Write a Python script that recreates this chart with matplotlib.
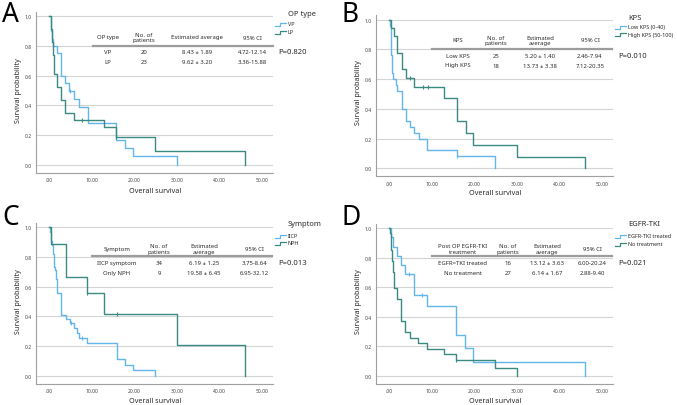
import numpy as np
import matplotlib
matplotlib.use("Agg")
import matplotlib.pyplot as plt
from matplotlib.lines import Line2D

plt.rcParams['font.family'] = ['Noto Sans', 'DejaVu Sans']

W, H = 677, 406
BLUE = '#62b6ec'
TEAL = '#3b8a82'
TXT = '#2b2b2b'

# ---- data (time, survival) ----
a_vp_t = [0, 0.3, 0.5, 0.7, 0.9, 1.9, 2.8, 3.8, 4.6, 5.7, 6.9, 9.0, 15.7, 17.9, 19.8, 30.0]
a_vp_s = [1, 0.95, 0.90, 0.85, 0.80, 0.75, 0.60, 0.55, 0.50, 0.444, 0.389, 0.278, 0.167, 0.111, 0.056, 0.0]
a_lp_t = [0, 0.3, 0.5, 0.6, 0.7, 0.8, 0.9, 1.0, 1.1, 1.2, 1.9, 2.8, 3.8, 5.7, 12.9, 15.7, 24.9, 46.0]
a_lp_s = [1, 0.957, 0.913, 0.87, 0.826, 0.783, 0.739, 0.696, 0.652, 0.609, 0.522, 0.435, 0.348, 0.304, 0.254, 0.19, 0.095, 0.0]
a_vp_cens = [(4.8, 0.50)]
a_lp_cens = [(7.8, 0.304), (15.7, 0.19)]

b_low_t = [0, 0.2, 0.3, 0.4, 0.5, 0.6, 0.7, 0.8, 1.5, 1.9, 2.9, 3.9, 4.9, 5.9, 7.1, 8.8, 15.9, 24.9]
b_low_s = [1, 0.96, 0.92, 0.84, 0.76, 0.72, 0.64, 0.60, 0.56, 0.52, 0.40, 0.32, 0.28, 0.24, 0.20, 0.12, 0.08, 0.0]
b_high_t = [0, 0.4, 1.2, 1.8, 2.9, 3.9, 5.9, 12.9, 15.9, 18.1, 19.8, 30.0, 46.0]
b_high_s = [1, 0.944, 0.889, 0.778, 0.667, 0.611, 0.55, 0.47, 0.315, 0.236, 0.157, 0.079, 0.0]
b_low_cens = [(15.9, 0.08)]
b_high_cens = [(4.9, 0.611), (7.9, 0.55), (9.0, 0.55)]

c_iicp_t = [0, 0.2, 0.3, 0.5, 0.7, 0.8, 0.9, 1.0, 1.1, 1.2, 1.3, 1.6, 1.9, 2.8, 3.9, 4.9, 5.9, 6.5, 6.9, 8.9, 15.9, 17.9, 19.8, 24.9]
c_iicp_s = [1, 0.97, 0.94, 0.91, 0.88, 0.85, 0.82, 0.79, 0.76, 0.735, 0.71, 0.65, 0.56, 0.41, 0.382, 0.353, 0.321, 0.289, 0.257, 0.22, 0.11, 0.074, 0.037, 0.0]
c_nph_t = [0, 0.4, 3.9, 8.9, 12.9, 30.0, 46.0]
c_nph_s = [1, 0.889, 0.667, 0.556, 0.417, 0.208, 0.0]
c_iicp_cens = [(5.0, 0.353), (7.8, 0.257)]
c_nph_cens = [(8.9, 0.556), (15.9, 0.417)]

d_tki_t = [0, 0.3, 0.8, 1.9, 2.8, 3.8, 5.8, 8.9, 15.7, 17.8, 19.8, 46.0]
d_tki_s = [1, 0.9375, 0.875, 0.8125, 0.75, 0.6875, 0.55, 0.471, 0.28, 0.19, 0.094, 0.0]
d_no_t = [0, 0.2, 0.3, 0.4, 0.5, 0.6, 0.7, 0.8, 0.9, 1.0, 1.1, 1.2, 1.9, 2.8, 3.8, 4.8, 6.8, 8.9, 12.9, 15.7, 24.9, 30.0]
d_no_s = [1, 0.963, 0.926, 0.889, 0.852, 0.815, 0.778, 0.741, 0.704, 0.667, 0.63, 0.593, 0.519, 0.37, 0.296, 0.259, 0.222, 0.185, 0.148, 0.111, 0.056, 0.0]
d_tki_cens = [(4.7, 0.6875), (7.7, 0.55)]
d_no_cens = [(15.7, 0.111)]

# ---- table contents ----
a_head = ['OP type', 'No. of\npatients', 'Estimated average', '95% CI']
a_rows = [['VP', '20', '8.43 ± 1.89', '4.72-12.14'], ['LP', '23', '9.62 ± 3.20', '3.36-15.88']]
b_head = ['KPS', 'No. of\npatients', 'Estimated\naverage', '95% CI']
b_rows = [['Low KPS', '25', '5.20 ± 1.40', '2.46-7.94'], ['High KPS', '18', '13.73 ± 3.38', '7.12-20.35']]
c_head = ['Symptom', 'No. of\npatients', 'Estimated\naverage', '95% CI']
c_rows = [['IICP symptom', '34', '6.19 ± 1.25', '3.75-8.64'], ['Only NPH', '9', '19.58 ± 6.45', '6.95-32.12']]
d_head = ['Post OP EGFR-TKI\ntreatment', 'No. of\npatients', 'Estimated\naverage', '95% CI']
d_rows = [['EGFR=TKI treated', '16', '13.12 ± 3.63', '6.00-20.24'], ['No treatment', '27', '6.14 ± 1.67', '2.88-9.40']]

xticks = [0, 10, 20, 30, 40, 50]
xtick_labels = ['.00', '10.00', '20.00', '30.00', '40.00', '50.00']
yticks = [0, 0.2, 0.4, 0.6, 0.8, 1.0]

XL = (-3.1, 52.6)
YL = (-0.055, 1.03)

fig = plt.figure(figsize=(W / 100, H / 100), dpi=100)


def fx(x):
    return x / W


def fy(y):
    return 1 - y / H


def panel(letter, lx, ly, anchors, labpos, curves, legend, table, pval):
    t0, t50, s0, s1 = anchors
    ppt = (t50 - t0) / 50.0
    pps = (s0 - s1)
    left = t0 + XL[0] * ppt
    width = (XL[1] - XL[0]) * ppt
    bottom = s0 - YL[0] * pps
    height = (YL[1] - YL[0]) * pps
    ax = fig.add_axes([fx(left), fy(bottom), width / W, height / H])
    ax.set_xlim(*XL)
    ax.set_ylim(*YL)
    for y in yticks:
        ax.axhline(y, color='#d4d4d4', lw=0.8, zorder=0)
    for t, s, cens, col in curves:
        ax.step(t, s, where='post', color=col, lw=1.0, zorder=3)
        if cens:
            cx, cy = zip(*cens)
            ax.plot(cx, cy, ls='none', marker='|', ms=3, mew=0.8, color=col, zorder=4)
    for sp in ['top', 'right']:
        ax.spines[sp].set_visible(False)
    for sp in ['left', 'bottom']:
        ax.spines[sp].set_color('#a0a0a0')
        ax.spines[sp].set_linewidth(0.8)
    ax.set_xticks(xticks)
    ax.set_xticklabels(xtick_labels)
    ax.set_yticks(yticks)
    ax.set_yticklabels(['%.1f' % v for v in yticks])
    ax.tick_params(length=0, labelsize=3.6, colors='#444444', pad=3)

    (xlx, xly), (ylx, yly) = labpos
    fig.text(fx(xlx), fy(xly), 'Overall survival', fontsize=5.2, color=TXT,
             ha='center', va='center')
    fig.text(fx(ylx), fy(yly), 'Survival probability', fontsize=5.2, color=TXT,
             ha='center', va='center', rotation=90)

    fig.text(fx(lx), fy(ly), letter, fontsize=19, va='top', ha='left', color='black')

    # legend
    title, tx, ty, entries = legend
    fig.text(fx(tx), fy(ty), title, fontsize=5.4, fontweight='bold', color=TXT, va='center')
    for lab, col, ey in entries:
        xs = [fx(tx - 13), fx(tx - 8), fx(tx - 8), fx(tx - 2)]
        ys = [fy(ey + 1.5), fy(ey + 1.5), fy(ey - 1.5), fy(ey - 1.5)]
        fig.add_artist(Line2D(xs, ys, color=col, lw=0.9))
        fig.text(fx(tx), fy(ey), lab, fontsize=3.9, color=TXT, va='center')

    # table
    head, rows, cols, hy, line_y, line_x, row_y = table
    for h, cx in zip(head, cols):
        fig.text(fx(cx), fy(hy), h, fontsize=4.3, color=TXT, ha='center', va='center',
                 linespacing=1.1)
    fig.add_artist(Line2D([fx(line_x[0]), fx(line_x[1])], [fy(line_y), fy(line_y)],
                          color='#9c9c9c', lw=1.6))
    for row, ry in zip(rows, row_y):
        for j, (v, cx) in enumerate(zip(row, cols)):
            fig.text(fx(cx), fy(ry), v, fontsize=4.3, color=TXT, ha='center', va='center',
                     fontweight='bold' if j == 0 else 'normal')
    fig.text(fx(pval[1]), fy(pval[2]), pval[0], fontsize=5.5, fontweight='bold',
             color=TXT, va='center')


panel('A', 2, 1, (49.3, 261.7, 165.7, 17.3), ((155, 192), (18, 90.7)),
      [(a_vp_t, a_vp_s, a_vp_cens, BLUE), (a_lp_t, a_lp_s, a_lp_cens, TEAL)],
      ('OP type', 288, 15, [('VP', BLUE, 25), ('LP', TEAL, 33)]),
      (a_head, a_rows, [108, 144, 197, 252], 38, 46.7, (93, 273), [52.5, 63]),
      ('P=0.820', 278, 52.5))

panel('B', 342, 1, (389.3, 601.7, 169.3, 20.7), ((495, 193.3), (358, 93)),
      [(b_low_t, b_low_s, b_low_cens, BLUE), (b_high_t, b_high_s, b_high_cens, TEAL)],
      ('KPS', 628, 18, [('Low KPS (0-40)', BLUE, 28), ('High KPS (50-100)', TEAL, 35)]),
      (b_head, b_rows, [458, 496, 540, 590], 41, 50, (432, 612), [56, 66]),
      ('P=0.010', 618, 56))

panel('C', 2, 204, (49.3, 261.7, 376.7, 228.3), ((155, 401.7), (18, 301.7)),
      [(c_iicp_t, c_iicp_s, c_iicp_cens, BLUE), (c_nph_t, c_nph_s, c_nph_cens, TEAL)],
      ('Symptom', 288, 225, [('IICP', BLUE, 237), ('NPH', TEAL, 244)]),
      (c_head, c_rows, [117, 159, 204, 254], 249.5, 257, (92, 272), [263.3, 274]),
      ('P=0.013', 278, 263.3))

panel('D', 342, 204, (389.3, 601.7, 377, 229), ((495, 401.7), (358, 302)),
      [(d_tki_t, d_tki_s, d_tki_cens, BLUE), (d_no_t, d_no_s, d_no_cens, TEAL)],
      ('EGFR-TKI', 628, 225, [('EGFR-TKI treated', BLUE, 237), ('No treatment', TEAL, 245)]),
      (d_head, d_rows, [463, 508, 547, 592], 249.5, 257, (432, 612), [263.3, 274]),
      ('P=0.021', 618, 263.3))

fig.savefig('out.png', dpi=100)
